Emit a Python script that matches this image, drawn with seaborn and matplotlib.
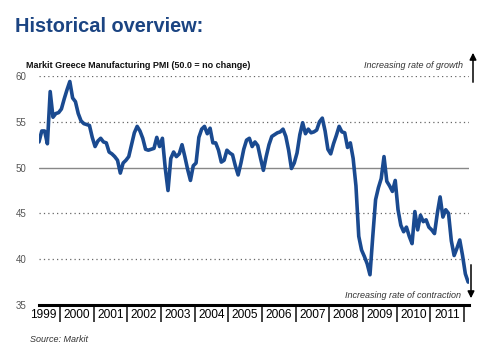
import numpy as np
import pandas as pd
import matplotlib
matplotlib.use("Agg")
import matplotlib.pyplot as plt
import seaborn as sns

# Monthly Markit Greece Manufacturing PMI, May 1999 .. Feb 2012
pmi = [
    52.8, 54.0, 54.0, 52.6, 58.3, 55.5, 55.9, 56.0, 56.4, 57.5,
    58.5, 59.4, 57.6, 57.2, 55.9, 55.1, 54.8, 54.7, 54.6, 53.3,
    52.3, 52.9, 53.2, 52.8, 52.7, 51.7, 51.5, 51.2, 50.8, 49.4,
    50.5, 50.8, 51.2, 52.5, 53.8, 54.5, 54.0, 53.2, 52.0, 51.9,
    52.0, 52.1, 53.3, 52.3, 53.2, 50.0, 47.5, 51.0, 51.7, 51.2,
    51.5, 52.5, 51.2, 49.8, 48.6, 50.2, 50.5, 53.3, 54.2, 54.5,
    53.7, 54.3, 52.7, 52.7, 51.9, 50.6, 50.8, 51.9, 51.6, 51.4,
    50.2, 49.2, 50.5, 52.0, 53.0, 53.2, 52.3, 52.8, 52.4, 51.0,
    49.7, 51.2, 52.5, 53.4, 53.6, 53.8, 53.9, 54.2, 53.4, 51.9,
    49.9, 50.5, 51.6, 53.6, 54.9, 53.7, 54.2, 53.8, 53.9, 54.1,
    55.0, 55.4, 54.0, 52.0, 51.5, 52.6, 53.5, 54.5, 53.9, 53.8,
    52.2, 52.7, 51.0, 48.0, 42.5, 41.0, 40.3, 39.5, 38.3, 42.5,
    46.5, 47.8, 48.8, 51.2, 48.5, 48.0, 47.4, 48.6, 45.4, 43.7,
    43.0, 43.5, 42.5, 41.7, 45.2, 43.2, 44.8, 44.1, 44.3, 43.5,
    43.2, 42.8, 45.0, 46.8, 44.6, 45.4, 45.0, 42.0, 40.4, 41.2,
    42.1, 40.4, 38.4, 37.5,
]
start_year = 1999
start_month = 5
year_labels = [str(y) for y in range(1999, 2012)]
y_ticks = [35, 40, 45, 50, 55, 60]

t = [start_year + (start_month - 1 + i + 0.5) / 12 for i in range(len(pmi))]
df = pd.DataFrame({"t": t, "pmi": pmi})

sns.set_style("white")
plt.rcParams["font.family"] = ["Liberation Sans", "DejaVu Sans"]

W, H = 500, 354
fig = plt.figure(figsize=(W / 100, H / 100), dpi=100)
ax = fig.add_axes([39 / W, (H - 305) / H, 430 / W, (305 - 76) / H])

xmin, xmax = 1999.376, 2012.15
# gridlines
for v in [40, 45, 55, 60]:
    ax.axhline(v, color="#666666", lw=0.9, ls=(0, (1, 2.5)), zorder=1)
ax.axhline(50, color="#888888", lw=1.0, zorder=1)

sns.lineplot(data=df, x="t", y="pmi", ax=ax, color="#1a4a90", lw=2.6,
             zorder=3, legend=False)

ax.set_xlim(xmin, xmax)
ax.set_ylim(35, 60)
for s in ["top", "right", "left"]:
    ax.spines[s].set_visible(False)
ax.spines["bottom"].set_linewidth(2.2)
ax.spines["bottom"].set_color("black")
ax.set_xlabel("")
ax.set_ylabel("")

ax.set_yticks(y_ticks)
ax.set_yticklabels([str(v) for v in y_ticks], fontsize=7, color="#555555")
ax.tick_params(axis="y", length=0, pad=9)

# year boundary ticks
ax.set_xticks(list(range(2000, 2013)))
ax.set_xticklabels([])
ax.tick_params(axis="x", which="major", bottom=True, length=12, width=1.3,
               color="#333333", direction="out")
ax.set_xticks([y + 0.5 for y in range(1999, 2012)], minor=True)
ax.set_xticklabels(year_labels, minor=True, fontsize=8.6, color="black")
ax.tick_params(axis="x", which="minor", bottom=True, length=0, pad=3)

# Title and texts
fig.text(15 / W, 1 - 27 / H, "Historical overview:", fontsize=14.4, fontweight="bold",
         color="#1b4482", va="center", ha="left")
fig.text(26 / W, 1 - 65 / H, "Markit Greece Manufacturing PMI (50.0 = no change)",
         fontsize=6.5, fontweight="bold", color="#111111", va="center", ha="left")
fig.text(463 / W, 1 - 65 / H, "Increasing rate of growth", fontsize=6.5,
         style="italic", color="#333333", va="center", ha="right")
fig.text(461 / W, 1 - 295 / H, "Increasing rate of contraction", fontsize=6.5,
         style="italic", color="#333333", va="center", ha="right")
fig.text(30 / W, 1 - 340 / H, "Source: Markit", fontsize=6.5,
         style="italic", color="#333333", va="center", ha="left")

# arrows
fig.patches.append(matplotlib.patches.FancyArrowPatch(
    (473 / W, 1 - 85 / H), (473 / W, 1 - 50 / H), transform=fig.transFigure,
    arrowstyle="-|>,head_length=4,head_width=2", color="black", lw=1.1,
    mutation_scale=1))
fig.patches.append(matplotlib.patches.FancyArrowPatch(
    (471 / W, 1 - 262 / H), (471 / W, 1 - 301 / H), transform=fig.transFigure,
    arrowstyle="-|>,head_length=4,head_width=2", color="black", lw=1.1,
    mutation_scale=1))

fig.savefig("out.png", dpi=100)
